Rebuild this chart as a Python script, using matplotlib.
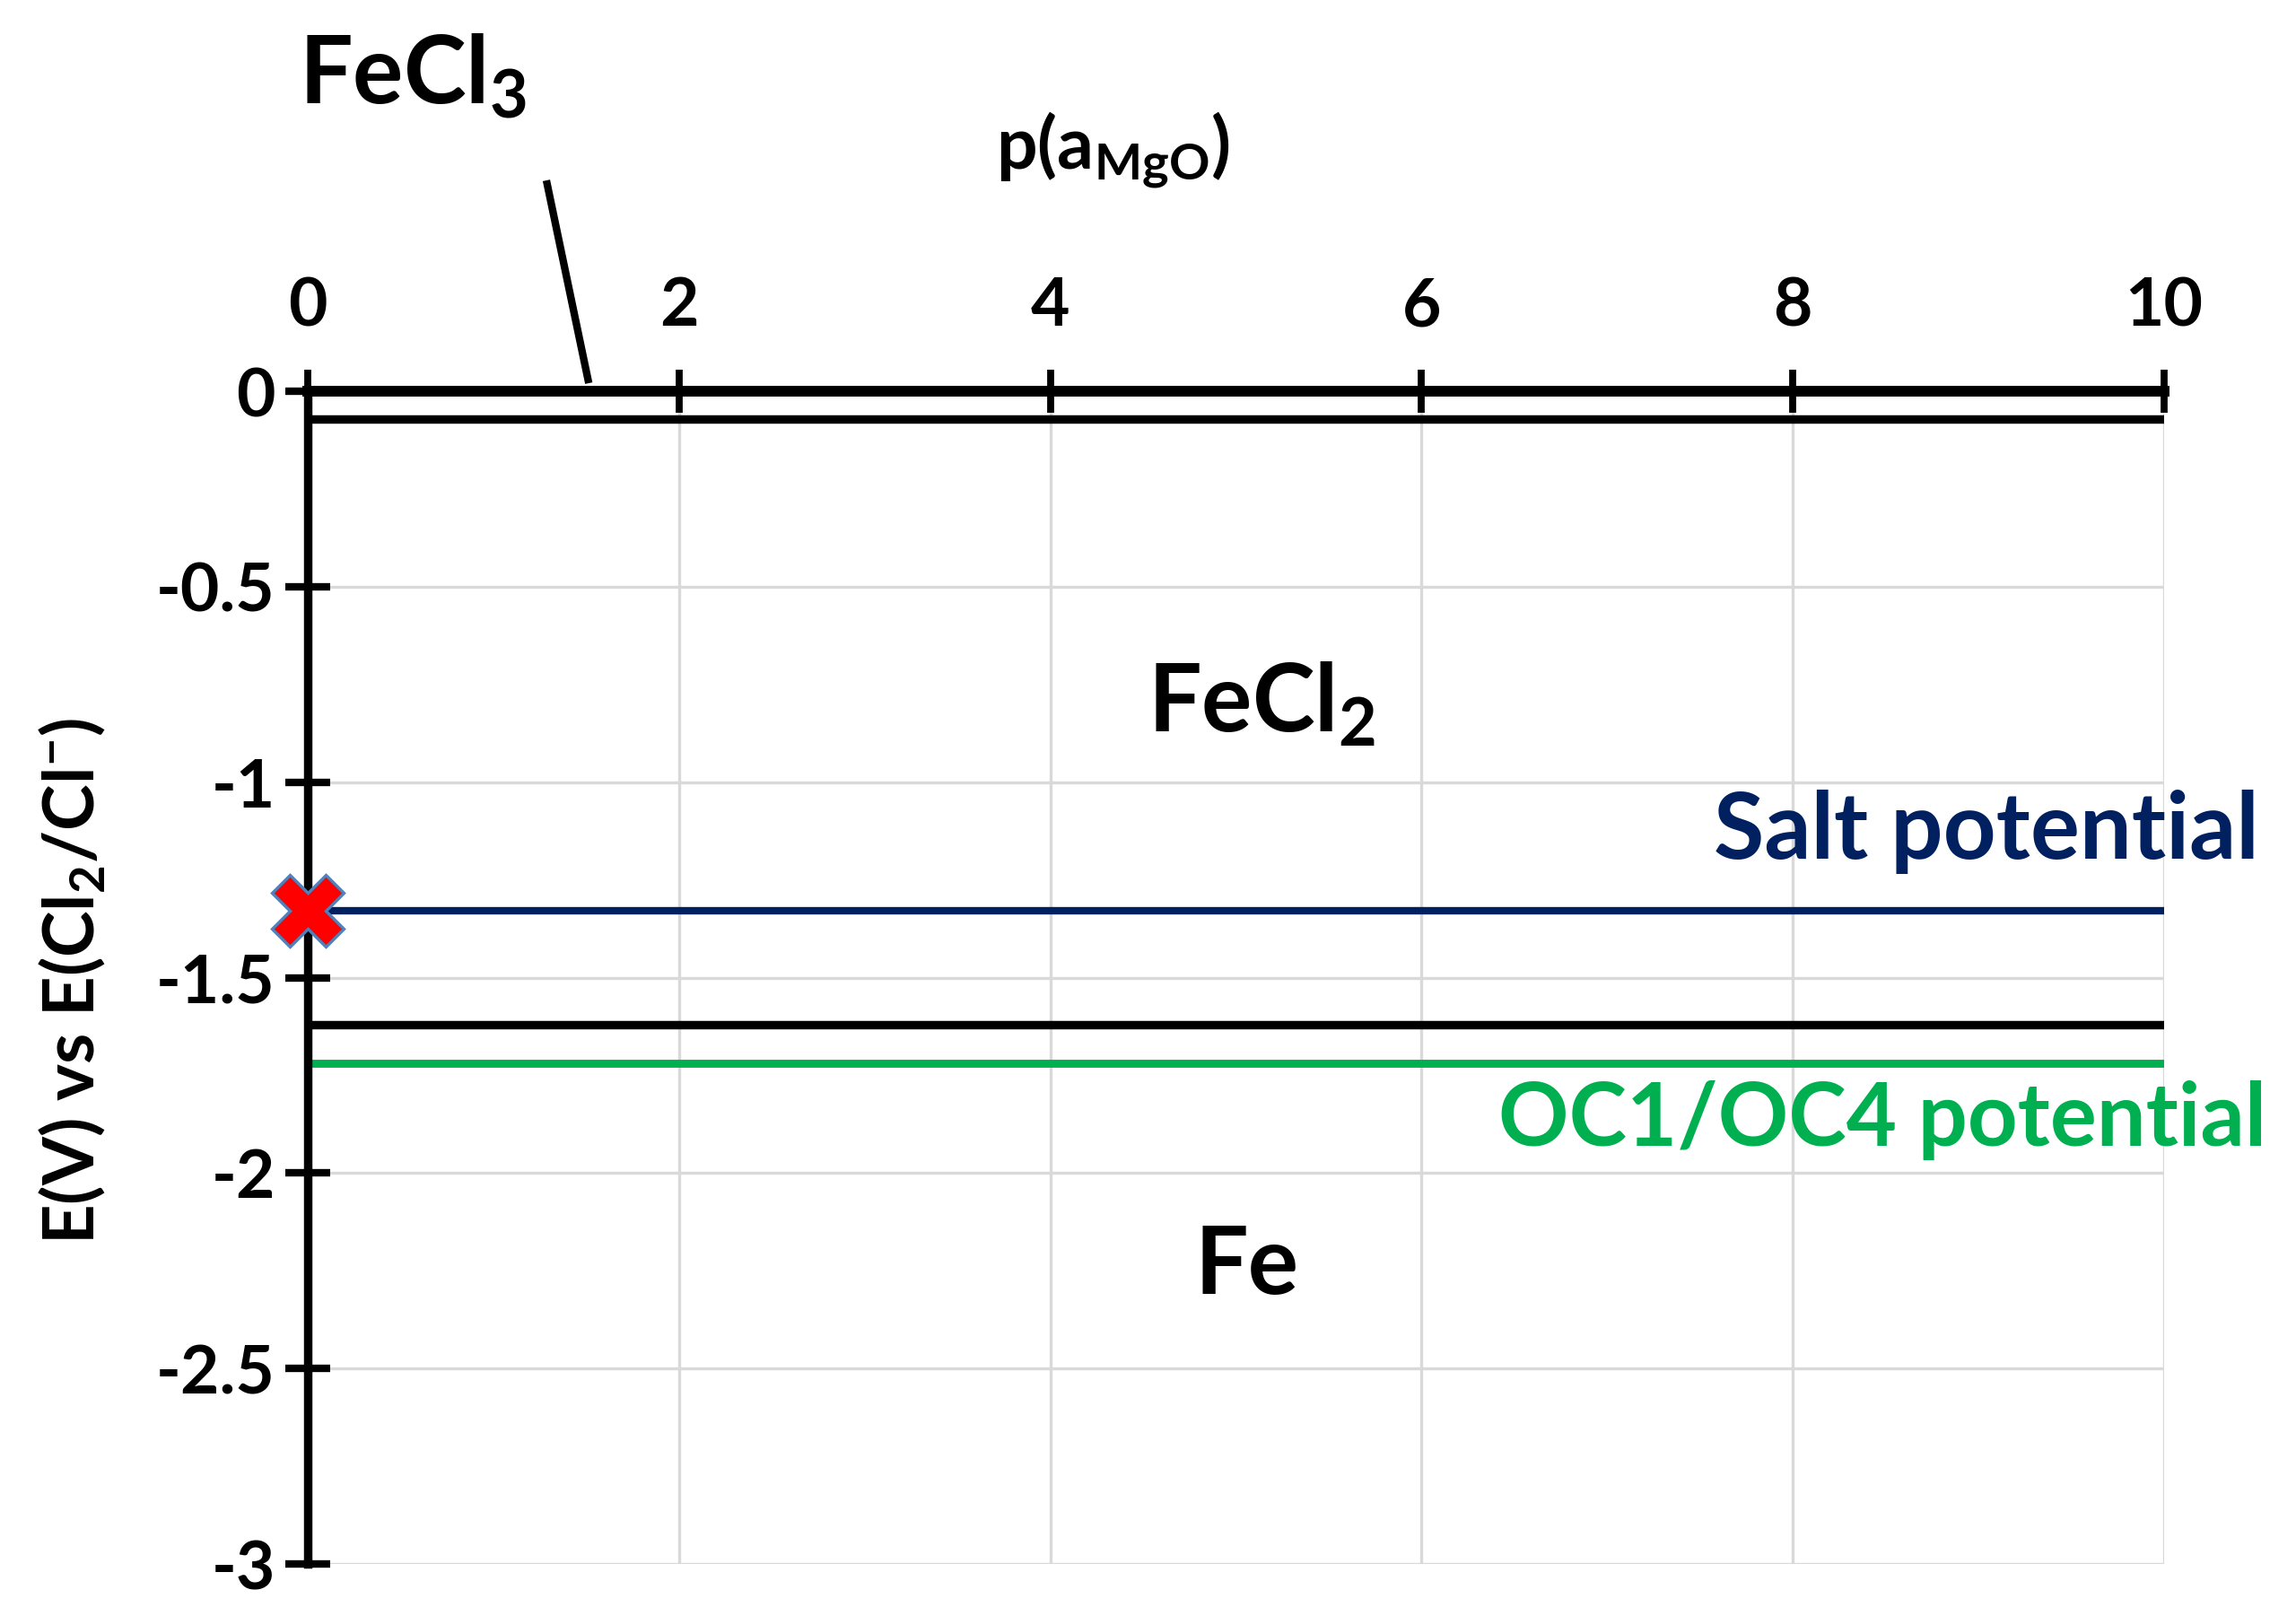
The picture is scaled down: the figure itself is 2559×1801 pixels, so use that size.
import matplotlib
matplotlib.use("Agg")
import matplotlib.pyplot as plt

# ---- data ----
x_range = [0, 10]
fecl3_fecl2_boundary = -0.07
fecl2_fe_boundary = -1.62
salt_potential = -1.33
oc_potential = -1.72
marker_x = [0]
marker_y = [-1.33]
fecl3_leader_x = [1.29, 1.51]
fecl3_leader_y = [0.53, 0.03]
xticks = [0, 2, 4, 6, 8, 10]
yticks = [0, -0.5, -1, -1.5, -2, -2.5, -3]
ytick_labels = ["0", "-0.5", "-1", "-1.5", "-2", "-2.5", "-3"]

plt.rcParams['font.family'] = ['Lato', 'DejaVu Sans']
plt.rcParams['font.weight'] = 'bold'
plt.rcParams['mathtext.fontset'] = 'custom'
plt.rcParams['mathtext.rm'] = 'Lato:bold'
plt.rcParams['mathtext.it'] = 'Lato:bold'
plt.rcParams['mathtext.bf'] = 'Lato:bold'
plt.rcParams['mathtext.default'] = 'rm'

fig = plt.figure(figsize=(12.795, 9.005), dpi=200)
ax = fig.add_axes([0.134, 0.0322, 0.8086, 0.7257])

ax.set_xlim(0, 10)
ax.set_ylim(-3, 0)

grid_c = '#d9d9d9'
for xv in xticks[1:]:
    ax.axvline(xv, color=grid_c, lw=1.2, zorder=0)
for yv in yticks:
    ax.axhline(yv, color=grid_c, lw=1.2, zorder=0)

# boundaries
ax.plot(x_range, [fecl3_fecl2_boundary] * 2, color='black', lw=3.4, zorder=3, solid_capstyle='butt')
ax.plot(x_range, [fecl2_fe_boundary] * 2, color='black', lw=3.4, zorder=3, solid_capstyle='butt')
ax.plot(x_range, [salt_potential] * 2, color='#002060', lw=3.0, zorder=3, solid_capstyle='butt')
ax.plot(x_range, [oc_potential] * 2, color='#00B050', lw=3.2, zorder=3, solid_capstyle='butt')

ax.plot(marker_x, marker_y, marker='X', markersize=29, markerfacecolor='#ff0000',
        markeredgecolor='#4f81bd', markeredgewidth=1.2, linestyle='none', clip_on=False, zorder=6)

ax.plot(fecl3_leader_x, fecl3_leader_y, color='black', lw=3.0, clip_on=False, zorder=5)

# spines
for s in ['right', 'bottom']:
    ax.spines[s].set_visible(False)
ax.spines['top'].set_linewidth(4.3)
ax.spines['left'].set_linewidth(3.4)
ax.spines['top'].set_zorder(4)
ax.spines['left'].set_zorder(4)

ax.xaxis.tick_top()
ax.set_xticks(xticks)
ax.set_xticklabels([str(v) for v in xticks])
ax.set_yticks(yticks)
ax.set_yticklabels(ytick_labels)
ax.tick_params(axis='x', direction='inout', length=17, width=2.8, pad=13, labelsize=27)
ax.tick_params(axis='y', direction='inout', length=18, width=3.0, pad=4, labelsize=27)

ax.set_xlabel(r'p(a$_{\mathregular{MgO}}$)', fontsize=29, fontweight='bold')
ax.xaxis.set_label_position('top')
ax.xaxis.set_label_coords(0.434, 1.19)
ax.set_ylabel(r'E(V) vs E(Cl$_{2}$/Cl$^{\mathregular{-}}$)', fontsize=28, fontweight='bold')
ax.yaxis.set_label_coords(-0.108, 0.497)

ax.text(0.0566, 1.2686, r'FeCl$_{3}$', transform=ax.transAxes, ha='center', va='center',
        fontsize=38, fontweight='bold', clip_on=False)
ax.text(5.14, -0.80, r'FeCl$_{2}$', ha='center', va='center', fontsize=38, fontweight='bold')
ax.text(5.06, -2.24, 'Fe', ha='center', va='center', fontsize=38, fontweight='bold')
ax.text(10.51, -1.127, 'Salt potential', ha='right', va='center', fontsize=37,
        fontweight='bold', color='#002060', clip_on=False)
ax.text(10.55, -1.865, 'OC1/OC4 potential', ha='right', va='center', fontsize=35,
        fontweight='bold', color='#00B050', clip_on=False)

fig.savefig('out.png', dpi=200)
